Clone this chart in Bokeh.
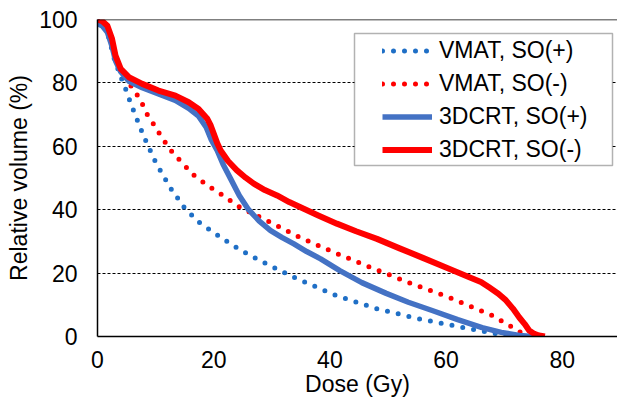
from bokeh.plotting import figure
from bokeh.models import Legend, LegendItem, FixedTicker, BoxAnnotation, Span
from bokeh.embed import file_html
from bokeh.resources import INLINE

# ---- data ----
vmat_p_dose = [0, 1, 2, 2.8, 3.4, 4.1, 4.8, 5.4, 6.1, 6.8, 8, 10, 12.5, 15, 17.5, 20, 22.3, 24, 25.6, 27.4,
               29, 34, 41, 48, 55, 63, 68.5, 71]
vmat_p_vol = [100, 99, 94, 88.1, 85, 81.5, 78.3, 75.2, 71.8, 68.5, 63, 55, 47, 40.5, 36, 32.8, 30, 28, 26.3, 24.5,
              23, 18.5, 13, 8.8, 5.7, 2.8, 0.9, 0]

vmat_m_dose = [0, 1, 2, 3, 4, 5, 5.7, 6.8, 7.7, 8.5, 9.5, 11, 12.5, 14.2, 16.5, 19, 21.2, 24.5, 29.7, 34.8,
               40, 43.4, 47, 54, 61, 68, 71.5, 74]
vmat_m_vol = [100, 99.5, 95, 88.5, 84, 81, 79.2, 76.3, 73.4, 70.2, 67.4, 63, 59, 55.5, 51, 47.6, 45, 40.8, 36.1, 31.3,
              27.1, 24.5, 21.8, 16.7, 12, 6.6, 2.8, 0]

crt_p_dose = [0, 0.8, 1.7, 2.5, 3.1, 4, 5.4, 7.7, 10.5, 13.4, 15.7, 17.4, 18.7, 19.6, 20.6, 21.7, 22.9, 24.4, 26,
              27.8, 29.8, 31.8, 33.8, 36, 38.4, 41.7, 45.5, 49.7, 53.5, 57.6, 62, 66.2, 69.5, 72.6, 75]
crt_p_vol = [98.7, 98, 96, 91.5, 87, 83.5, 80.5, 78.5, 76.5, 74.5, 72, 69.5, 66, 62, 58.7, 54, 49.8, 44.5, 40,
             36.5, 33.4, 31.2, 29.2, 26.8, 24.5, 20.8, 17, 13.6, 10.8, 8.2, 5.3, 2.8, 1.3, 0.3, 0]

crt_m_dose = [0, 0.8, 1.7, 2.5, 3.1, 4, 5.4, 7.7, 10.5, 13.4, 15.7, 17.4, 18.9, 19.5, 20, 20.6, 21.2, 22.5, 24,
              25.5, 26.9, 28.8, 30.9, 33, 35.5, 38, 41.2, 44.5, 48.1, 52, 56, 60.5, 64, 66, 67.4, 69, 70.3,
              71.5, 72.6, 73.5, 74.3, 75.2, 76, 77]
crt_m_vol = [100, 99.5, 98, 93.9, 88.6, 84.4, 81.8, 79.7, 77.6, 76, 73.9, 71.8, 68.7, 66.5, 64, 61, 58.7, 55.3, 52.4,
             50.1, 48.2, 46.2, 44.5, 42.4, 40.3, 38.2, 35.6, 33.2, 30.8, 27.8, 24.8, 21.4, 18.7, 17.2, 15.5, 13.5,
             11.4, 8.8, 6, 4, 1.9, 0.8, 0.3, 0]

series_labels = ["VMAT, SO(+)", "VMAT, SO(-)", "3DCRT, SO(+)", "3DCRT, SO(-)"]
x_ticks = [0, 20, 40, 60, 80]
y_ticks = [0, 20, 40, 60, 80, 100]

FONT = "Liberation Sans"
FS = "23px"

p = figure(width=617, height=402, x_range=(0, 89.5), y_range=(0, 100),
           output_backend="svg", toolbar_location=None,
           min_border_left=97, min_border_right=0, min_border_top=19, min_border_bottom=66)

p.outline_line_color = None
p.background_fill_color = "white"
p.border_fill_color = "white"

p.xgrid.visible = False
p.ygrid.grid_line_color = "black"
p.ygrid.grid_line_dash = "3 2"
p.ygrid.grid_line_width = 1
p.ygrid.ticker = FixedTicker(ticks=y_ticks)

for ax in (p.xaxis[0], p.yaxis[0]):
    ax.axis_line_color = "black"
    ax.axis_line_width = 1.5
    ax.major_tick_line_color = None
    ax.minor_tick_line_color = None
    ax.major_tick_out = 0
    ax.major_tick_in = 0
    ax.major_label_text_font = FONT
    ax.major_label_text_font_size = FS
    ax.major_label_text_color = "black"
    ax.axis_label_text_font = FONT
    ax.axis_label_text_font_size = FS
    ax.axis_label_text_font_style = "normal"
    ax.axis_label_text_color = "black"

p.xaxis.ticker = FixedTicker(ticks=x_ticks)
p.yaxis.ticker = FixedTicker(ticks=y_ticks)
p.xaxis.axis_label = "Dose (Gy)"
p.yaxis.axis_label = "Relative volume (%)"
p.xaxis.major_label_standoff = 14
p.xaxis.axis_label_standoff = 0
p.yaxis.major_label_standoff = 20
p.yaxis.axis_label_standoff = 4

# top border of the plot area (no right border in the reference)
p.add_layout(Span(location=100, dimension="width", line_color="black", line_width=1.5))

r1 = p.line(vmat_p_dose, vmat_p_vol, line_color="#1F6FC6", line_width=5,
            line_dash="0 11", line_cap="round")
r2 = p.line(vmat_m_dose, vmat_m_vol, line_color="#FF0000", line_width=5,
            line_dash="0 11", line_cap="round")
r3 = p.line(crt_p_dose, crt_p_vol, line_color="#4472C4", line_width=5.5, line_join="round")
r4 = p.line(crt_m_dose, crt_m_vol, line_color="#FF0000", line_width=6, line_join="round")

box = BoxAnnotation(left=257, right=515, bottom=171, top=303,
                    left_units="screen", right_units="screen",
                    top_units="screen", bottom_units="screen",
                    fill_color="white", fill_alpha=1, line_color="black", line_width=1.5)
p.add_layout(box)

legend = Legend(items=[LegendItem(label=series_labels[i], renderers=[r])
                       for i, r in enumerate([r1, r2, r3, r4])],
                location=(285, 173.5), border_line_alpha=0, background_fill_alpha=0,
                padding=0, margin=0, spacing=6, glyph_width=50, glyph_height=27,
                label_height=27, label_standoff=7,
                label_text_font=FONT, label_text_font_size=FS, label_text_color="black")
p.add_layout(legend)

open("out.html", "w").write(file_html(p, INLINE))
